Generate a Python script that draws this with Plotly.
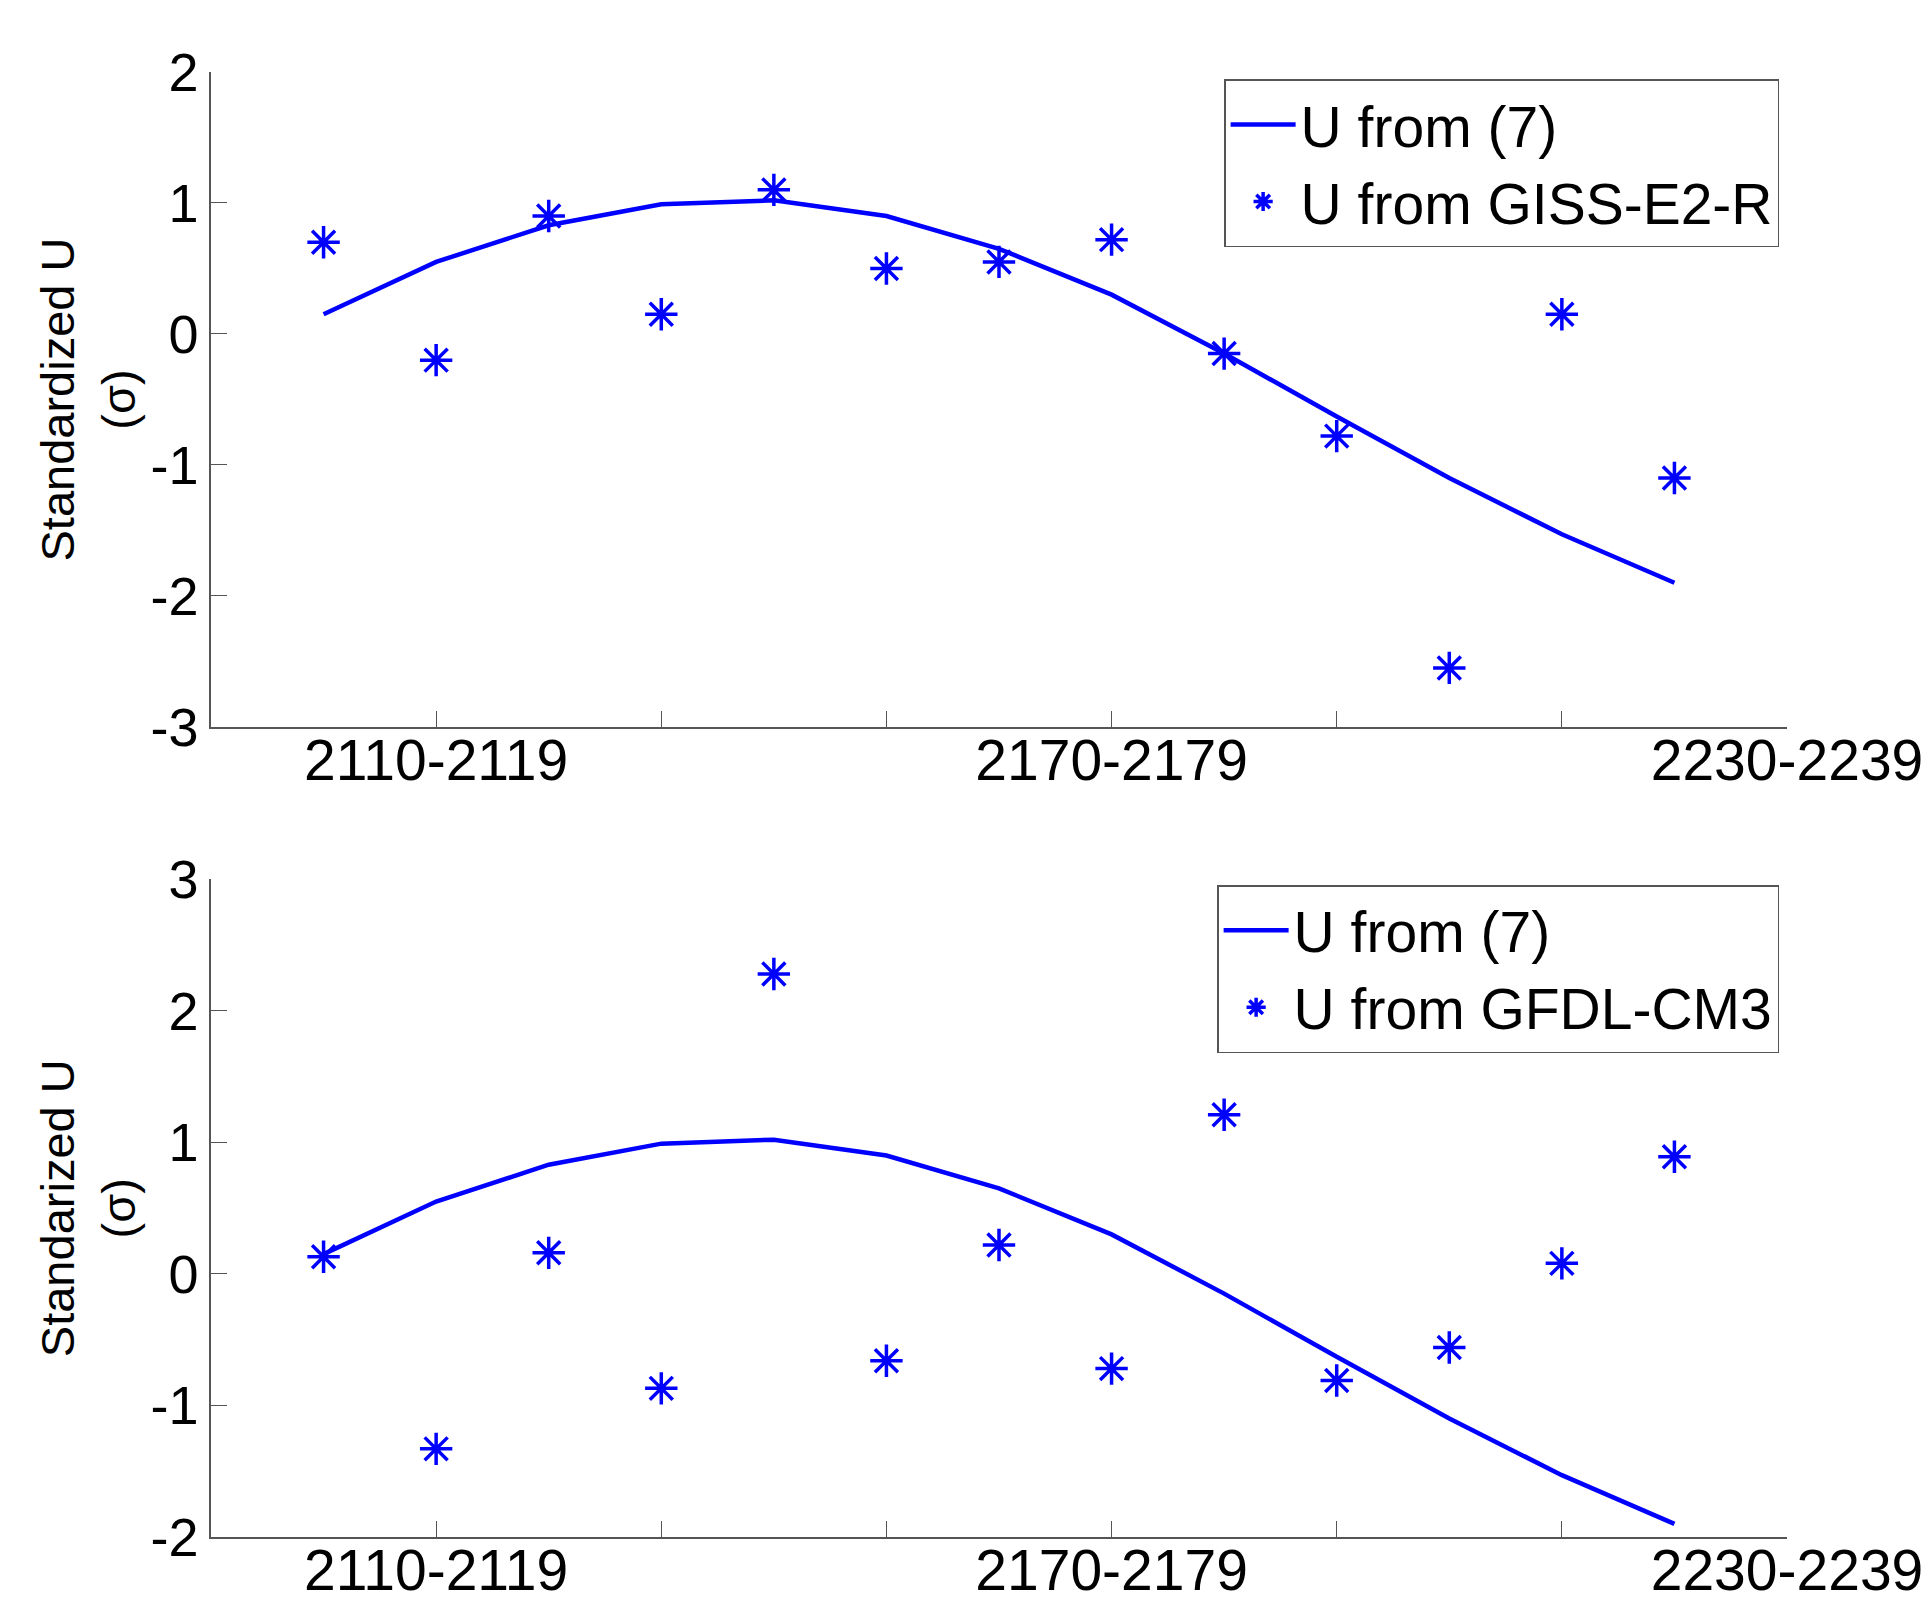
import plotly.graph_objects as go

# Decade start years (each point is a decade, e.g. 2110 -> 2110-2119)
decades = [2100, 2110, 2120, 2130, 2140, 2150, 2160, 2170, 2180, 2190, 2200, 2210, 2220]

# U from (7) — same curve in both panels
u_model = [0.15, 0.55, 0.83, 0.99, 1.02, 0.90, 0.65, 0.30, -0.15, -0.63, -1.10, -1.53, -1.90]

# U from GISS-E2-R (top panel)
u_giss = [0.70, -0.20, 0.90, 0.15, 1.10, 0.50, 0.55, 0.72, -0.15, -0.78, -2.55, 0.15, -1.10]

# U from GFDL-CM3 (bottom panel)
u_gfdl = [0.13, -1.33, 0.16, -0.87, 2.28, -0.66, 0.22, -0.72, 1.21, -0.81, -0.56, 0.08, 0.89]

x_tickvals = [2090, 2110, 2130, 2150, 2170, 2190, 2210, 2230]
x_ticktext = ["", "2110-2119", "", "", "2170-2179", "", "", "2230-2239"]

top_yticks = [-3, -2, -1, 0, 1, 2]
top_yticktext = ["-3", "-2", "-1", "0", "1", "2"]
bot_yticks = [-2, -1, 0, 1, 2, 3]
bot_yticktext = ["-2", "-1", "0", "1", "2", "3"]

FONT = "Liberation Sans, Arial, Helvetica, sans-serif"
BLUE = "rgb(0,0,255)"

fig = go.Figure()

marker_style = dict(symbol="asterisk-open", size=27, color=BLUE,
                    line=dict(color=BLUE, width=3.5))

# Top panel
fig.add_trace(go.Scatter(x=decades, y=u_model, mode="lines", name="U from (7)",
                         line=dict(color=BLUE, width=4.5), xaxis="x", yaxis="y",
                         legend="legend"))
fig.add_trace(go.Scatter(x=decades, y=u_giss, mode="markers", name="U from GISS-E2-R",
                         marker=marker_style, xaxis="x", yaxis="y", legend="legend"))

# Bottom panel
fig.add_trace(go.Scatter(x=decades, y=u_model, mode="lines", name="U from (7)",
                         line=dict(color=BLUE, width=4.5), xaxis="x2", yaxis="y2",
                         legend="legend2"))
fig.add_trace(go.Scatter(x=decades, y=u_gfdl, mode="markers", name="U from GFDL-CM3",
                         marker=marker_style, xaxis="x2", yaxis="y2", legend="legend2"))

axis_common = dict(showgrid=False, zeroline=False, showline=True, linecolor="#555",
                   linewidth=1.5, ticks="inside", ticklen=16, tickcolor="#555",
                   tickwidth=1.2, mirror=False, automargin=False)
xfont = dict(family=FONT, size=57, color="black")
yfont = dict(family=FONT, size=54, color="black")

legend_common = dict(xanchor="right", yanchor="top",
                     bgcolor="white", bordercolor="#555", borderwidth=1.5,
                     font=dict(family=FONT, size=57, color="black"),
                     tracegroupgap=0, itemwidth=65)

fig.update_layout(
    width=1926, height=1604,
    margin=dict(l=211, r=139, t=72, b=67, autoexpand=False),
    paper_bgcolor="white", plot_bgcolor="white",
    font=dict(family=FONT, color="black"),
    showlegend=True,
    xaxis=dict(domain=[0, 1], range=[2090, 2230], anchor="y",
               tickvals=x_tickvals, ticktext=x_ticktext, tickfont=xfont,
               ticklabelstandoff=-17, **axis_common),
    yaxis=dict(domain=[0.553, 1], range=[-3, 2], anchor="x",
               tickvals=top_yticks, ticktext=top_yticktext, tickfont=yfont, **axis_common),
    xaxis2=dict(domain=[0, 1], range=[2090, 2230], anchor="y2",
                tickvals=x_tickvals, ticktext=x_ticktext, tickfont=xfont,
                ticklabelstandoff=-17, **axis_common),
    yaxis2=dict(domain=[0, 0.449], range=[-2, 3], anchor="x2",
                tickvals=bot_yticks, ticktext=bot_yticktext, tickfont=yfont, **axis_common),
    legend=dict(x=0.995, y=0.995, **legend_common),
    legend2=dict(x=0.995, y=0.445, **legend_common),
    annotations=[
        dict(text="Standardized U<br>(σ)", xref="paper", yref="paper",
             x=-0.078, y=0.7765, xanchor="center", yanchor="middle",
             textangle=-90, showarrow=False,
             font=dict(family=FONT, size=47, color="black")),
        dict(text="Standarized U<br>(σ)", xref="paper", yref="paper",
             x=-0.078, y=0.2245, xanchor="center", yanchor="middle",
             textangle=-90, showarrow=False,
             font=dict(family=FONT, size=47, color="black")),
    ],
)

fig.write_html("out.html")
